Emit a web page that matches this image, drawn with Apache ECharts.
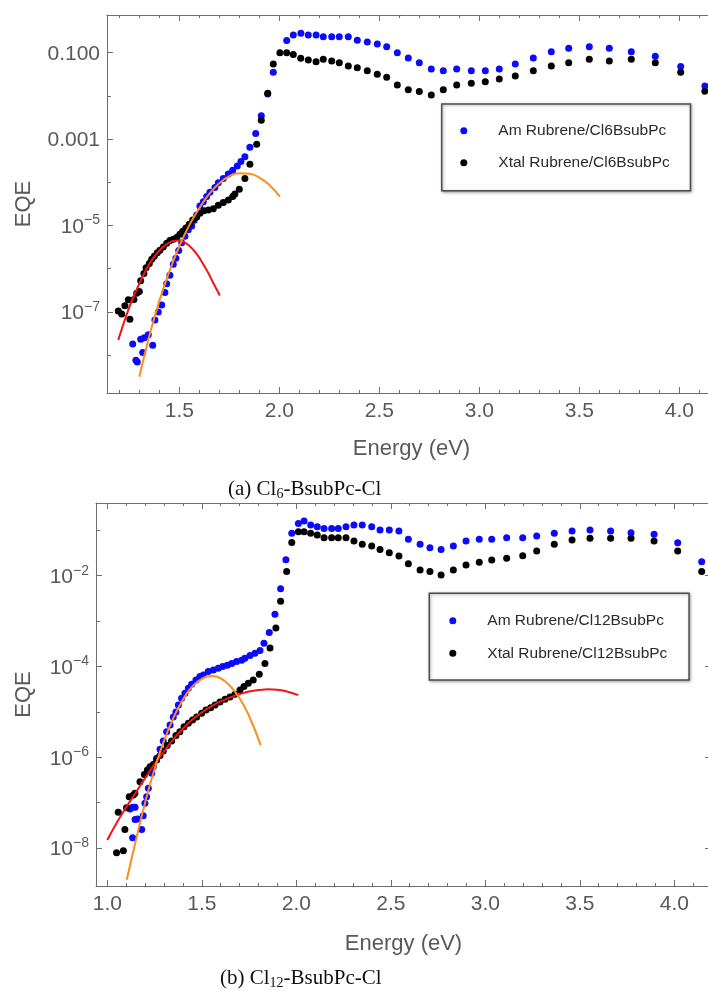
<!DOCTYPE html>
<html>
<head>
<meta charset="utf-8">
<title>EQE vs photon energy</title>
<script src="https://cdn.jsdelivr.net/npm/echarts@6.0.0/dist/echarts.min.js"></script>
<style>
  html, body { margin: 0; padding: 0; background: #ffffff; }
  #chart { width: 708px; height: 991px; }
</style>
</head>
<body>
<div id="chart"></div>
<script>
// ---------- (a) Rubrene / Cl6-BsubPc ----------
const amEnergyA = [1.267,1.283,1.290,1.307,1.317,1.325,1.345,1.367,1.378,1.395,1.412,1.428,1.437,1.453,1.470,1.483,1.497,1.512,1.528,1.545,1.562,1.575,1.587,1.603,1.620,1.637,1.653,1.678,1.695,1.720,1.745,1.767,1.790,1.808,1.828,1.853,1.882,1.910,1.942,1.970,2.037,2.070,2.108,2.145,2.184,2.220,2.262,2.300,2.345,2.390,2.440,2.490,2.537,2.590,2.645,2.700,2.760,2.820,2.887,2.960,3.030,3.100,3.180,3.270,3.360,3.447,3.550,3.650,3.760,3.880,4.007,4.128];
const amEqeA = [1.82e-8,7.59e-9,6.92e-9,2.34e-8,1.15e-8,2.51e-8,2.95e-8,1.70e-8,6.46e-8,1.0e-7,1.45e-7,2.82e-7,4.47e-7,7.08e-7,1.26e-6,1.74e-6,2.63e-6,3.98e-6,5.62e-6,7.94e-6,9.77e-6,1.32e-5,1.74e-5,2.82e-5,3.55e-5,4.68e-5,5.89e-5,7.59e-5,9.77e-5,1.23e-4,1.55e-4,1.91e-4,2.40e-4,3.02e-4,3.89e-4,6.46e-4,1.35e-3,3.47e-3,1.10e-2,3.55e-2,0.191,0.257,0.282,0.257,0.257,0.234,0.234,0.234,0.234,0.195,0.178,0.158,0.138,0.100,0.0759,0.0589,0.0417,0.0380,0.0417,0.0380,0.0380,0.0417,0.0550,0.0759,0.105,0.126,0.138,0.126,0.105,0.0832,0.0479,0.0170];

const xtalEnergyA = [1.195,1.212,1.228,1.245,1.253,1.273,1.287,1.300,1.307,1.323,1.334,1.350,1.362,1.375,1.390,1.403,1.420,1.437,1.453,1.470,1.487,1.503,1.517,1.533,1.550,1.567,1.587,1.603,1.623,1.645,1.670,1.695,1.720,1.745,1.767,1.778,1.800,1.828,1.853,1.887,1.910,1.942,1.970,2.003,2.037,2.070,2.107,2.145,2.184,2.220,2.262,2.300,2.345,2.390,2.440,2.490,2.537,2.590,2.645,2.700,2.760,2.820,2.887,2.960,3.030,3.100,3.180,3.270,3.360,3.447,3.550,3.650,3.760,3.880,4.007,4.128];
const xtalEqeA = [1.05e-7,8.91e-8,1.38e-7,1.91e-7,6.76e-8,1.95e-7,2.69e-7,2.95e-7,5.25e-7,7.76e-7,1.05e-6,1.32e-6,1.66e-6,1.95e-6,2.34e-6,2.69e-6,3.16e-6,3.89e-6,4.47e-6,4.79e-6,5.25e-6,6.31e-6,7.41e-6,8.71e-6,1.07e-5,1.35e-5,1.58e-5,1.91e-5,2.19e-5,2.29e-5,2.45e-5,2.95e-5,3.39e-5,3.89e-5,4.68e-5,5.37e-5,6.92e-5,1.23e-4,2.63e-4,7.59e-4,2.75e-3,1.15e-2,5.50e-2,0.100,0.100,0.0912,0.0741,0.0676,0.0617,0.0708,0.0646,0.0589,0.0490,0.0447,0.0380,0.0316,0.0269,0.0178,0.0138,0.0126,0.0105,0.0138,0.0178,0.0195,0.0214,0.0245,0.0288,0.0380,0.0490,0.0589,0.0708,0.0646,0.0708,0.0589,0.0355,0.0129];

// Gaussian fits of the sub-gap tails
const ctFitEnergyA = [1.195,1.22,1.245,1.27,1.295,1.32,1.345,1.37,1.395,1.42,1.445,1.47,1.495,1.52,1.545,1.57,1.595,1.62,1.645,1.67,1.703];
const ctFitEqeA = [2.24e-8,5.13e-8,1.12e-7,2.19e-7,3.98e-7,7.08e-7,1.17e-6,1.78e-6,2.45e-6,3.24e-6,3.89e-6,4.37e-6,4.47e-6,4.17e-6,3.55e-6,2.75e-6,1.95e-6,1.26e-6,7.94e-7,4.68e-7,2.40e-7];
const amFitEnergyA = [1.30,1.35,1.40,1.45,1.50,1.55,1.60,1.65,1.70,1.75,1.80,1.85,1.90,1.95,2.003];
const amFitEqeA = [3.16e-9,2.75e-8,1.78e-7,8.51e-7,3.31e-6,1.02e-5,2.51e-5,5.37e-5,9.55e-5,1.38e-4,1.62e-4,1.58e-4,1.29e-4,8.71e-5,4.68e-5];

// ---------- (b) Rubrene / Cl12-BsubPc ----------
const amEnergyB = [1.120,1.134,1.134,1.147,1.147,1.160,1.182,1.190,1.199,1.208,1.217,1.235,1.243,1.261,1.279,1.296,1.314,1.332,1.349,1.363,1.376,1.393,1.411,1.429,1.446,1.469,1.490,1.508,1.534,1.561,1.587,1.610,1.635,1.658,1.684,1.711,1.728,1.755,1.781,1.808,1.829,1.857,1.887,1.917,1.945,1.976,2.011,2.041,2.076,2.111,2.147,2.187,2.222,2.263,2.305,2.349,2.399,2.443,2.492,2.543,2.593,2.655,2.707,2.766,2.831,2.898,2.968,3.034,3.113,3.198,3.272,3.365,3.459,3.554,3.663,3.771,3.893,4.018,4.145];
const amEqeB = [7.24e-8,7.94e-8,1.70e-8,7.94e-8,4.27e-8,4.37e-8,2.57e-8,5.13e-8,9.77e-8,1.35e-7,2.09e-7,4.47e-7,6.17e-7,9.55e-7,1.51e-6,2.29e-6,3.63e-6,5.13e-6,7.76e-6,1.0e-5,1.41e-5,2.0e-5,2.57e-5,3.31e-5,4.07e-5,5.01e-5,6.03e-5,6.46e-5,7.76e-5,8.32e-5,9.12e-5,1.0e-4,1.07e-4,1.17e-4,1.29e-4,1.38e-4,1.51e-4,1.74e-4,1.95e-4,2.24e-4,3.24e-4,5.62e-4,1.41e-3,5.13e-3,2.24e-2,0.0857,0.142,0.160,0.131,0.120,0.110,0.110,0.110,0.120,0.131,0.131,0.120,0.101,0.101,0.0964,0.0632,0.0491,0.0414,0.0380,0.0451,0.0581,0.0632,0.0632,0.0687,0.0687,0.0748,0.0857,0.0964,0.101,0.0964,0.0887,0.0815,0.0533,0.0204];

const xtalEnergyB = [1.049,1.058,1.085,1.093,1.102,1.116,1.138,1.146,1.173,1.196,1.212,1.226,1.243,1.261,1.279,1.296,1.317,1.340,1.363,1.384,1.406,1.429,1.451,1.473,1.499,1.522,1.547,1.570,1.596,1.623,1.649,1.675,1.702,1.723,1.746,1.772,1.804,1.834,1.861,1.892,1.917,1.949,1.976,2.011,2.041,2.076,2.111,2.147,2.187,2.222,2.263,2.305,2.349,2.399,2.443,2.492,2.543,2.593,2.655,2.707,2.766,2.831,2.898,2.968,3.034,3.113,3.198,3.272,3.365,3.459,3.554,3.663,3.771,3.893,4.018,4.145];
const xtalEqeB = [7.94e-9,6.17e-8,8.71e-9,2.57e-8,7.76e-8,1.35e-7,1.48e-7,1.62e-7,2.88e-7,4.17e-7,5.25e-7,6.17e-7,6.92e-7,8.71e-7,1.10e-6,1.38e-6,1.82e-6,2.29e-6,3.02e-6,3.63e-6,4.68e-6,5.62e-6,6.61e-6,7.76e-6,9.33e-6,1.10e-5,1.23e-5,1.41e-5,1.66e-5,1.91e-5,2.14e-5,2.45e-5,3.02e-5,3.63e-5,4.27e-5,5.01e-5,6.76e-5,1.17e-4,2.57e-4,7.08e-4,2.75e-3,1.23e-2,5.37e-2,0.0933,0.0933,0.0857,0.0787,0.0687,0.0687,0.0687,0.0687,0.0581,0.0491,0.0451,0.0380,0.0321,0.0272,0.0184,0.0133,0.0123,0.0104,0.0133,0.0172,0.0197,0.0221,0.0241,0.0276,0.0350,0.0491,0.0611,0.0665,0.0665,0.0665,0.0581,0.0350,0.0123];

const ctFitEnergyB = [1.00,1.05,1.10,1.15,1.20,1.25,1.30,1.35,1.40,1.45,1.50,1.55,1.60,1.65,1.70,1.75,1.80,1.85,1.90,1.95,2.011];
const ctFitEqeB = [1.51e-8,3.63e-8,7.94e-8,1.66e-7,3.47e-7,7.08e-7,1.35e-6,2.51e-6,4.27e-6,6.76e-6,9.77e-6,1.32e-5,1.70e-5,2.09e-5,2.45e-5,2.82e-5,3.02e-5,3.16e-5,3.09e-5,2.82e-5,2.34e-5];
const amFitEnergyB = [1.103,1.15,1.20,1.25,1.30,1.35,1.40,1.45,1.50,1.552,1.60,1.65,1.70,1.75,1.811];
const amFitEqeB = [2.0e-9,1.41e-8,1.0e-7,5.50e-7,2.29e-6,7.41e-6,1.86e-5,3.63e-5,5.37e-5,6.17e-5,5.50e-5,3.72e-5,2.0e-5,8.13e-6,1.86e-6];

// ---------- ticks ----------
const energyMajor = [1.0, 1.5, 2.0, 2.5, 3.0, 3.5, 4.0];
const energyMinor = [1.1,1.2,1.3,1.4,1.6,1.7,1.8,1.9,2.1,2.2,2.3,2.4,2.6,2.7,2.8,2.9,3.1,3.2,3.3,3.4,3.6,3.7,3.8,3.9,4.1];
const decadesOdd = [1e-1, 1e-3, 1e-5, 1e-7];
const decadesEven = [1e-2, 1e-4, 1e-6, 1e-8];

// ---------- styling ----------
const FONT = '"Liberation Sans", Arial, Helvetica, sans-serif';
const SERIF = '"Liberation Serif", "Times New Roman", serif';
const FRAME = '#6e6e6e';
const LABEL = '#595959';
const BLUE = '#0a0aff';
const BLACK = '#000000';
const RED = '#f41414';
const ORANGE = '#ff8c1a';

function pairs(xs, ys) { return xs.map((x, i) => [x, ys[i]]); }

// decade label: plain decimals down to 10^plainDown, then 10 with a superscript
function decadeLabel(v, plainDown) {
  const e = Math.round(Math.log10(v));
  if (e >= plainDown) return '{b|' + Math.pow(10, e).toFixed(-plainDown) + '}';
  return '{b|10}{s|\u2212' + (-e) + '}';
}
const decadeRich = {
  b: { fontSize: 21, lineHeight: 24, color: LABEL, fontFamily: FONT, verticalAlign: 'bottom' },
  s: { fontSize: 14, lineHeight: 16, color: LABEL, fontFamily: FONT, verticalAlign: 'top' }
};

function frameLine() { return { show: true, onZero: false, lineStyle: { color: FRAME, width: 1 } }; }
function ticks(values, len) { return { show: true, inside: true, length: len, customValues: values, lineStyle: { color: FRAME, width: 1 } }; }

function energyAxes(grid, range, nameGap) {
  const base = { type: 'value', gridIndex: grid, min: range[0], max: range[1], splitLine: { show: false } };
  return [
    Object.assign({}, base, {
      position: 'bottom', axisLine: frameLine(), axisTick: ticks(energyMajor, 6),
      axisLabel: { show: true, customValues: energyMajor, margin: 8, fontSize: 21, color: LABEL, fontFamily: FONT,
                   formatter: v => v.toFixed(1) },
      name: 'Energy (eV)', nameLocation: 'middle', nameGap: nameGap,
      nameTextStyle: { fontSize: 22, color: LABEL, fontFamily: FONT }
    }),
    Object.assign({}, base, { position: 'bottom', axisLine: { show: false }, axisTick: ticks(energyMinor, 3), axisLabel: { show: false } }),
    Object.assign({}, base, { position: 'top', axisLine: frameLine(), axisTick: ticks(energyMajor, 6), axisLabel: { show: false } }),
    Object.assign({}, base, { position: 'top', axisLine: { show: false }, axisTick: ticks(energyMinor, 3), axisLabel: { show: false } })
  ];
}

function eqeAxes(grid, range, labelled, unlabelled, plainDown, nameGap, withRight) {
  const base = { type: 'log', logBase: 10, gridIndex: grid, min: range[0], max: range[1], splitLine: { show: false } };
  const axes = [
    Object.assign({}, base, {
      position: 'left', axisLine: frameLine(), axisTick: ticks(labelled, 6),
      axisLabel: { show: true, customValues: labelled, margin: 7, formatter: v => decadeLabel(v, plainDown), rich: decadeRich },
      name: 'EQE', nameLocation: 'middle', nameGap: nameGap,
      nameTextStyle: { fontSize: 22, color: LABEL, fontFamily: FONT }
    }),
    Object.assign({}, base, { position: 'left', axisLine: { show: false }, axisTick: ticks(unlabelled, 4), axisLabel: { show: false } })
  ];
  if (withRight) {
    axes.push(Object.assign({}, base, { position: 'right', axisLine: frameLine(), axisTick: ticks(labelled, 6), axisLabel: { show: false } }));
  }
  return axes;
}

function dots(name, xs, ys, color, xi, yi) {
  return { type: 'scatter', name, xAxisIndex: xi, yAxisIndex: yi, data: pairs(xs, ys),
           symbol: 'circle', symbolSize: 7, itemStyle: { color, opacity: 1 }, silent: true, z: 2 };
}
function fitLine(name, xs, ys, color, xi, yi) {
  return { type: 'line', name, xAxisIndex: xi, yAxisIndex: yi, data: pairs(xs, ys),
           showSymbol: false, symbol: 'none', smooth: true, lineStyle: { color, width: 2 }, silent: true, z: 3 };
}

function legendBox(names, left, top, padding, itemGap) {
  return {
    data: names, orient: 'vertical', left, top, padding, itemGap,
    icon: 'circle', itemWidth: 7, itemHeight: 7, selectedMode: false,
    textStyle: { fontFamily: FONT, fontSize: 15.5, color: '#2a2a2a', lineHeight: 18, padding: [0, 0, 0, 26] },
    backgroundColor: '#ffffff', borderColor: '#4d4d4d', borderWidth: 1.5, borderRadius: 0,
    shadowBlur: 3, shadowColor: 'rgba(0,0,0,0.35)', shadowOffsetX: 1, shadowOffsetY: 1
  };
}

const namesA = ['Am Rubrene/Cl6BsubPc', 'Xtal Rubrene/Cl6BsubPc'];
const namesB = ['Am Rubrene/Cl12BsubPc', 'Xtal Rubrene/Cl12BsubPc'];

const captionStyle = {
  fontFamily: SERIF, fontSize: 21, fontWeight: 'normal', color: '#111111', lineHeight: 24,
  rich: { sub: { fontFamily: SERIF, fontSize: 14, lineHeight: 15, color: '#111111', verticalAlign: 'bottom' } }
};

const option = {
  animation: false,
  backgroundColor: '#ffffff',
  title: [
    { text: '(a) Cl{sub|6}-BsubPc-Cl', left: 228, top: 477, padding: 0, textStyle: captionStyle },
    { text: '(b) Cl{sub|12}-BsubPc-Cl', left: 220, top: 966, padding: 0, textStyle: captionStyle }
  ],
  grid: [
    { left: 107, top: 15, width: 609, height: 378, outerBoundsMode: 'none', containLabel: false },
    { left: 96, top: 503, width: 615, height: 383, outerBoundsMode: 'none', containLabel: false }
  ],
  xAxis: [].concat(
    energyAxes(0, [1.1385, 4.1835], 45),
    energyAxes(1, [0.9402, 4.1942], 47)
  ),
  yAxis: [].concat(
    eqeAxes(0, [Math.pow(10, -8.877), Math.pow(10, -0.1273)], decadesOdd, decadesEven, -3, 72, false),
    eqeAxes(1, [Math.pow(10, -8.835), Math.pow(10, -0.3987)], decadesEven, decadesOdd, 0, 61, true)
  ),
  legend: [
    legendBox(namesA, 441.7, 104, [17.7, 20.7, 19, 18.6], 14),
    legendBox(namesB, 429.3, 593.3, [18.4, 21.7, 17.7, 20], 14.6)
  ],
  series: [
    dots(namesA[0], amEnergyA, amEqeA, BLUE, 0, 0),
    dots(namesA[1], xtalEnergyA, xtalEqeA, BLACK, 0, 0),
    fitLine('CT-state Gaussian fit (Xtal)', ctFitEnergyA, ctFitEqeA, RED, 0, 0),
    fitLine('CT-state Gaussian fit (Am)', amFitEnergyA, amFitEqeA, ORANGE, 0, 0),
    dots(namesB[0], amEnergyB, amEqeB, BLUE, 4, 2),
    dots(namesB[1], xtalEnergyB, xtalEqeB, BLACK, 4, 2),
    fitLine('CT-state Gaussian fit (Xtal) ', ctFitEnergyB, ctFitEqeB, RED, 4, 2),
    fitLine('CT-state Gaussian fit (Am) ', amFitEnergyB, amFitEqeB, ORANGE, 4, 2)
  ]
};

const chart = echarts.init(document.getElementById('chart'), null, { renderer: 'canvas' });
chart.setOption(option);
</script>
</body>
</html>
